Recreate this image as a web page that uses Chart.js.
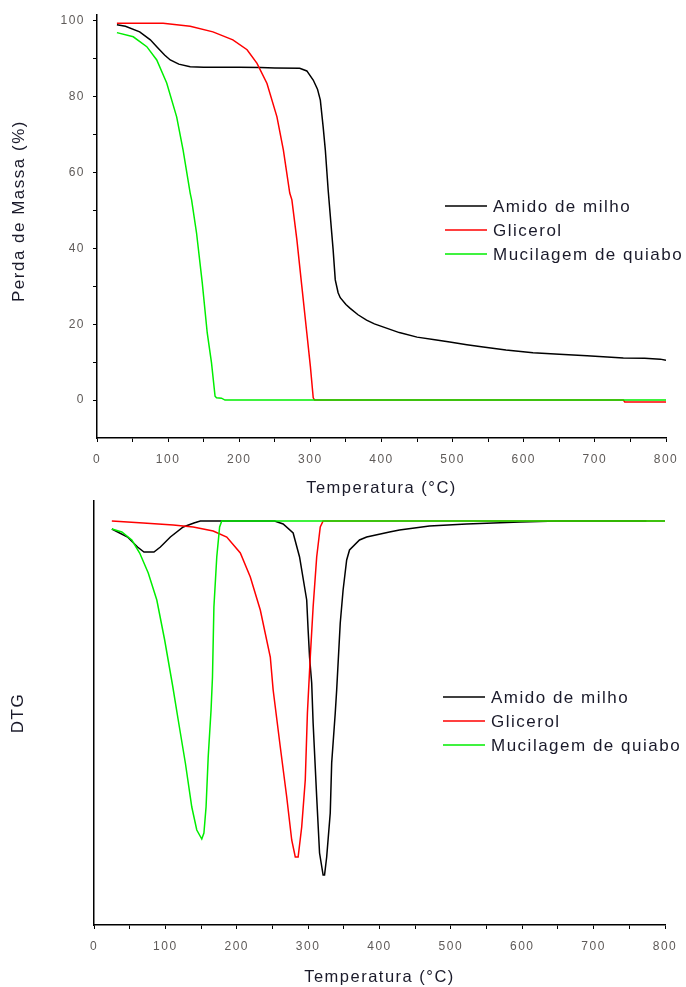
<!DOCTYPE html>
<html>
<head>
<meta charset="utf-8">
<script src="https://cdn.jsdelivr.net/npm/chart.js@4.4.0/dist/chart.umd.min.js"></script>
<style>
html, body { margin: 0; padding: 0; background: #ffffff; }
#tgaWrap { position: absolute; left: 0; top: 0; width: 686px; height: 500px; }
#dtgWrap { position: absolute; left: 0; top: 495px; width: 686px; height: 492px; }
</style>
</head>
<body>
<div id="tgaWrap"><canvas id="tgaChart"></canvas></div>
<div id="dtgWrap"><canvas id="dtgChart"></canvas></div>
<script>
const seriesLabels = ['Amido de milho', 'Glicerol', 'Mucilagem de quiabo'];
const seriesColors = ['#000000', '#ff0000', '#00ee00'];

const xTicks = [0, 50, 100, 150, 200, 250, 300, 350, 400, 450, 500, 550, 600, 650, 700, 750, 800];
const tgaTicks = [0, 10, 20, 30, 40, 50, 60, 70, 80, 90, 100];

// TGA - perda de massa (%)
const amidoTgaT = [28, 40, 60, 75, 84, 95, 103, 115, 131, 150, 200, 230, 250, 285, 295, 304, 310, 314, 318, 321, 325, 330, 332, 335, 339, 342, 350, 356, 367, 379, 390, 402, 425, 450, 475, 496, 520, 543, 575, 613, 650, 689, 740, 770, 792, 800];
const amidoTga  = [99.0, 98.6, 97.1, 95.0, 93.2, 91.0, 89.7, 88.6, 87.9, 87.8, 87.8, 87.7, 87.6, 87.5, 86.8, 84.4, 82.0, 79.1, 72.0, 66.0, 55.4, 44.1, 39.6, 31.7, 28.3, 27.0, 25.2, 24.2, 22.5, 21.1, 20.1, 19.3, 17.8, 16.6, 15.9, 15.3, 14.6, 14.0, 13.2, 12.5, 12.1, 11.7, 11.1, 11.0, 10.8, 10.5];

const glicerolTgaT = [28, 93, 131, 163, 191, 211, 225, 239, 253, 262, 271, 274, 281, 288, 295, 300, 304, 306, 740, 742, 800];
const glicerolTga  = [99.4, 99.4, 98.6, 97.1, 95.0, 92.4, 88.8, 83.5, 74.7, 66.0, 54.6, 52.8, 42.3, 30.0, 17.7, 8.9, 0.6, 0, 0, -0.5, -0.5];

const mucilagemTgaT = [28, 51, 70, 84, 98, 112, 121, 131, 133, 140, 148, 155, 161, 166, 168, 175, 180, 800];
const mucilagemTga  = [96.9, 95.8, 93.2, 89.7, 83.6, 74.7, 66.0, 54.6, 52.8, 44.0, 30.9, 17.7, 9.8, 1.0, 0.6, 0.5, 0, 0];

// DTG (unidades arbitrarias)
const amidoDtgT = [25, 47, 61, 70, 84, 93, 107, 125, 140, 149, 253, 265, 279, 288, 298, 300, 302, 305, 307, 312, 316, 321, 323, 326, 331, 333, 338, 340, 345, 349, 354, 358, 372, 382, 414, 428, 470, 522, 597, 650, 774];
const amidoDtg  = [-0.08, -0.16, -0.26, -0.31, -0.31, -0.26, -0.16, -0.06, -0.02, 0, 0, -0.03, -0.12, -0.36, -0.79, -1.09, -1.36, -1.62, -2.02, -2.76, -3.32, -3.54, -3.54, -3.36, -2.92, -2.42, -1.92, -1.69, -1.02, -0.69, -0.39, -0.29, -0.19, -0.16, -0.11, -0.09, -0.05, -0.03, -0.01, 0, 0];

const glicerolDtgT = [25, 69, 111, 139, 167, 186, 205, 219, 233, 247, 251, 261, 270, 277, 282, 286, 291, 296, 299, 303, 307, 312, 317, 321, 800];
const glicerolDtg  = [0, -0.02, -0.04, -0.06, -0.10, -0.16, -0.32, -0.56, -0.89, -1.36, -1.69, -2.26, -2.76, -3.19, -3.36, -3.36, -3.06, -2.59, -1.92, -1.36, -0.86, -0.36, -0.06, 0, 0];

const mucilagemDtgT = [25, 39, 53, 64, 76, 88, 99, 110, 118, 128, 137, 144, 151, 154, 157, 160, 164, 166, 168, 172, 176, 179, 800];
const mucilagemDtg  = [-0.08, -0.11, -0.19, -0.32, -0.52, -0.79, -1.19, -1.64, -1.99, -2.42, -2.86, -3.09, -3.18, -3.12, -2.86, -2.36, -1.89, -1.56, -0.86, -0.36, -0.06, 0, 0];

const fontFamily = '"Liberation Sans", Arial, sans-serif';
const tickColor = '#5e5a58';

function toPoints(ts, vs) {
    return ts.map((t, i) => ({ x: t, y: vs[i] }));
}

function makeDatasets(tList, vList) {
    return seriesLabels.map((label, i) => ({
        label: label,
        data: toPoints(tList[i], vList[i]),
        borderColor: seriesColors[i],
        borderWidth: 1.5,
        pointRadius: 0,
        tension: 0,
        fill: false,
        order: 3 - i // green on top
    }));
}

// letter spacing like the original figure
const spacingPlugin = {
    id: 'spacing',
    beforeLayout(chart) { chart.ctx.letterSpacing = '1.5px'; },
    beforeDraw(chart) { chart.ctx.letterSpacing = '1.5px'; }
};

// legend drawn inside the plot area
const innerLegend = {
    id: 'innerLegend',
    afterDraw(chart, args, opts) {
        const ctx = chart.ctx;
        ctx.save();
        ctx.letterSpacing = '1.5px';
        ctx.font = '17px ' + fontFamily;
        ctx.textBaseline = 'middle';
        chart.data.datasets.forEach((ds, i) => {
            const y = opts.y + i * opts.gap;
            ctx.strokeStyle = ds.borderColor;
            ctx.lineWidth = 1.5;
            ctx.beginPath();
            ctx.moveTo(opts.x, y);
            ctx.lineTo(opts.x + 42, y);
            ctx.stroke();
            ctx.fillStyle = '#1a1a2a';
            ctx.fillText(ds.label, opts.x + 48, y + 1);
        });
        ctx.restore();
    }
};

function xScale(axisHeight, titlePad) {
    return {
        type: 'linear',
        min: 0,
        max: 800,
        afterBuildTicks: s => { s.ticks = xTicks.map(v => ({ value: v })); },
        afterFit: s => {
            s.height = axisHeight;
            s.paddingLeft = 0;
            s.paddingRight = 0;
        },
        ticks: {
            autoSkip: false,
            maxRotation: 0,
            padding: 10,
            color: tickColor,
            font: { family: fontFamily, size: 12 },
            callback: v => (v % 100 === 0 ? v : '')
        },
        grid: { drawOnChartArea: false, tickLength: 4, tickColor: '#000000' },
        border: { color: '#000000', width: 1.5 },
        title: {
            display: true,
            text: 'Temperatura (°C)',
            color: '#1a1a2a',
            font: { family: fontFamily, size: 16.5 },
            padding: { top: 0, bottom: titlePad }
        }
    };
}

const tgaConfig = {
    type: 'line',
    data: {
        datasets: makeDatasets(
            [amidoTgaT, glicerolTgaT, mucilagemTgaT],
            [amidoTga, glicerolTga, mucilagemTga])
    },
    options: {
        responsive: true,
        maintainAspectRatio: false,
        animation: false,
        layout: { padding: { left: 0, right: 20, top: 15, bottom: 0 } },
        plugins: {
            legend: { display: false },
            tooltip: { enabled: false },
            innerLegend: { x: 445, y: 206, gap: 24 }
        },
        scales: {
            x: xScale(62, 2),
            y: {
                min: -10,
                max: 101.5,
                afterBuildTicks: s => { s.ticks = tgaTicks.map(v => ({ value: v })); },
                afterFit: s => { s.width = 97; },
                ticks: {
                    autoSkip: false,
                    padding: 8,
                    color: tickColor,
                    font: { family: fontFamily, size: 12 },
                    callback: v => (v % 20 === 0 ? v : '')
                },
                grid: { drawOnChartArea: false, tickLength: 4, tickColor: '#000000' },
                border: { color: '#000000', width: 1.5 },
                title: {
                    display: true,
                    // leading spaces lift the title a little, as in the original
                    text: '\u00a0\u00a0\u00a0\u00a0\u00a0Perda de Massa (%)',
                    color: '#1a1a2a',
                    font: { family: fontFamily, size: 17 },
                    padding: { top: 9, bottom: 0 }
                }
            }
        }
    },
    plugins: [spacingPlugin, innerLegend]
};

const dtgConfig = {
    type: 'line',
    data: {
        datasets: makeDatasets(
            [amidoDtgT, glicerolDtgT, mucilagemDtgT],
            [amidoDtg, glicerolDtg, mucilagemDtg])
    },
    options: {
        responsive: true,
        maintainAspectRatio: false,
        animation: false,
        layout: { padding: { left: 0, right: 21, top: 6, bottom: 0 } },
        plugins: {
            legend: { display: false },
            tooltip: { enabled: false },
            innerLegend: { x: 443, y: 202, gap: 24 }
        },
        scales: {
            x: xScale(62, 0),
            y: {
                min: -4.04,
                max: 0.2,
                afterFit: s => { s.width = 94; },
                ticks: { display: false },
                grid: { display: false },
                border: { color: '#000000', width: 1.5 },
                title: {
                    display: true,
                    text: 'DTG',
                    color: '#1a1a2a',
                    font: { family: fontFamily, size: 17 },
                    padding: { top: 8, bottom: 0 }
                }
            }
        }
    },
    plugins: [spacingPlugin, innerLegend]
};

new Chart(document.getElementById('tgaChart').getContext('2d'), tgaConfig);
new Chart(document.getElementById('dtgChart').getContext('2d'), dtgConfig);
</script>
</body>
</html>
